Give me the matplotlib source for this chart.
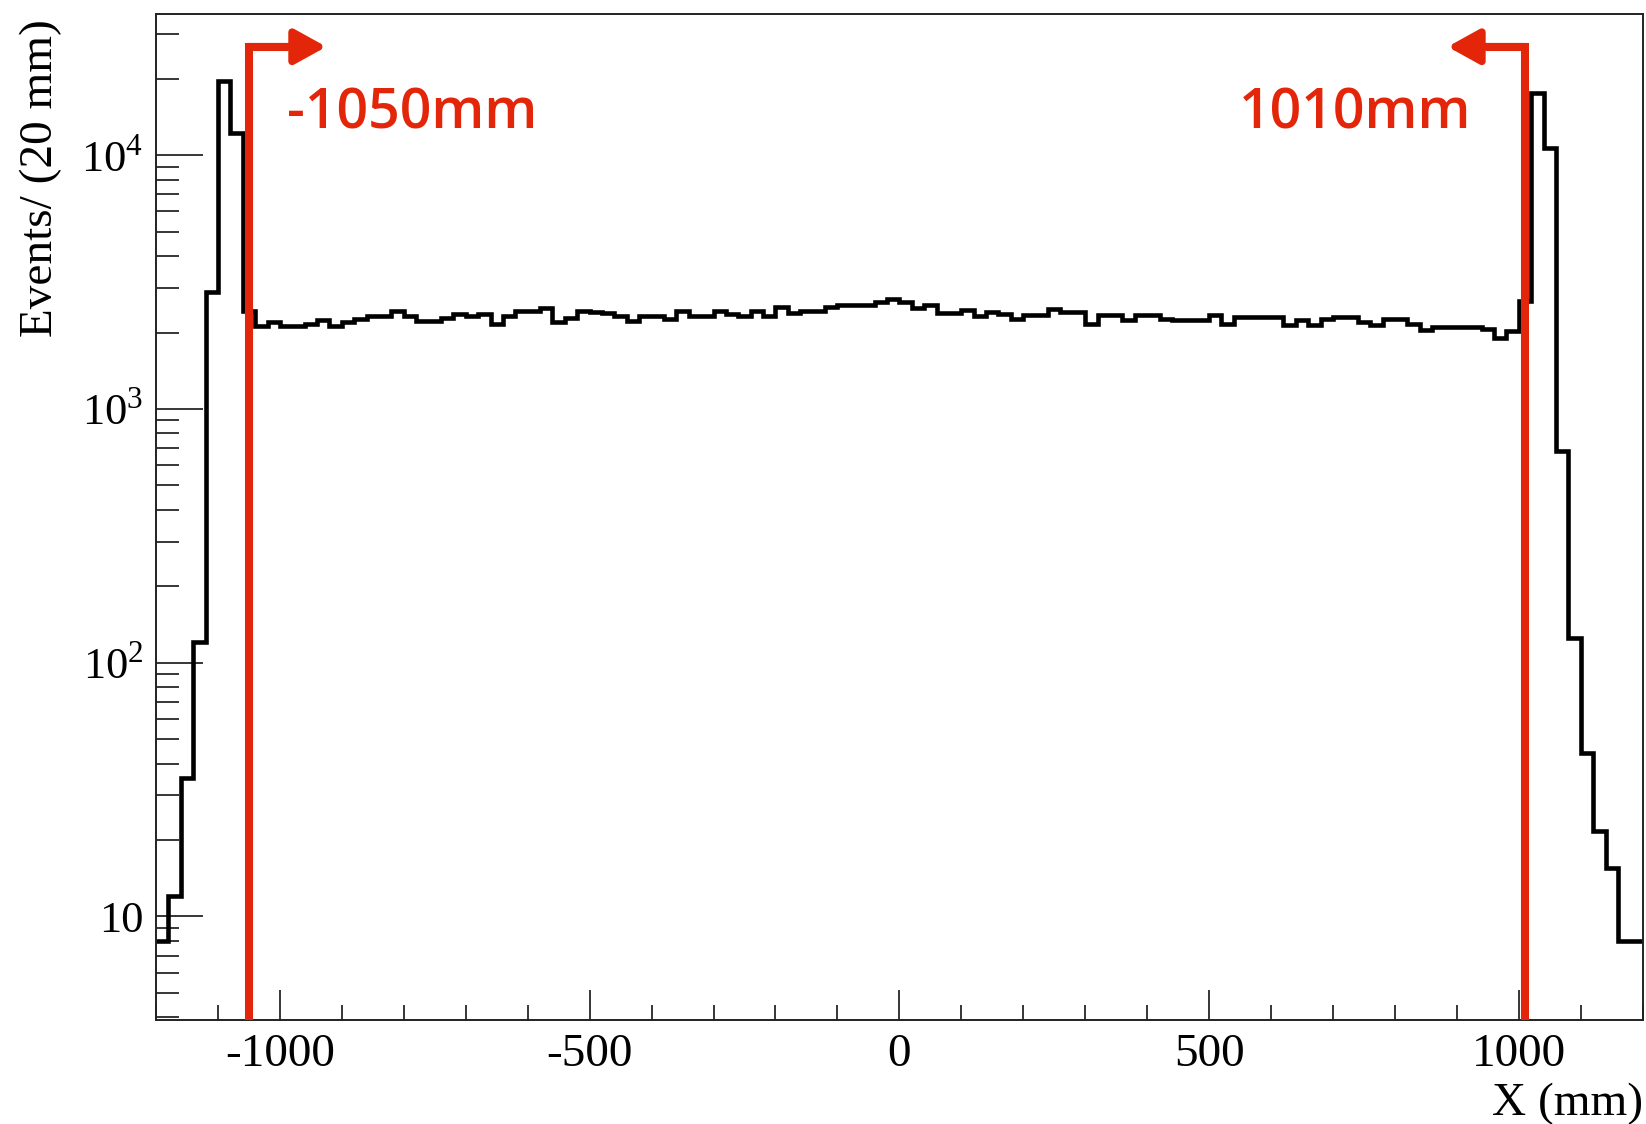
import numpy as np
import matplotlib
matplotlib.use("Agg")
import matplotlib.pyplot as plt
import matplotlib.ticker as mticker
import matplotlib.transforms as mtransforms

plt.rcParams['font.family'] = 'Liberation Serif'
plt.rcParams['mathtext.fontset'] = 'custom'
plt.rcParams['mathtext.rm'] = 'Liberation Serif'
plt.rcParams['axes.unicode_minus'] = False

# histogram binning (20 mm bins)
x_min = -1200
x_max = 1200
bin_width = 20

# counts, left to right
counts_left_peak = [8, 12, 35, 120, 2900, 19600, 12200, 2440]          # -1200 .. -1060
counts_flat_a = [2130, 2200, 2120, 2120, 2160, 2250, 2130, 2200, 2260, 2320,
                 2320, 2430, 2320, 2230, 2230, 2290, 2370, 2320, 2370, 2160,
                 2320, 2430, 2430, 2490, 2200, 2290, 2440, 2400, 2380]  # -1040 .. -480
counts_flat_b = [2320, 2230, 2320, 2320, 2260, 2440, 2320, 2320, 2440, 2370,
                 2320, 2440, 2320, 2520, 2390, 2440, 2440, 2520, 2570, 2570,
                 2570, 2650, 2700, 2650, 2490, 2570, 2390, 2390, 2460, 2320]  # -460 .. 120
counts_flat_c = [2420, 2370, 2266, 2335, 2335, 2480, 2410, 2410, 2166, 2335,
                 2335, 2233, 2350, 2350, 2266, 2233, 2233, 2233, 2350, 2166,
                 2300, 2300]                                            # 140 .. 560
counts_flat_d = [2300, 2300, 2133, 2250, 2133, 2266, 2310, 2310, 2200, 2133,
                 2266, 2266, 2166, 2038, 2100, 2100, 2110, 2100, 2060, 1910,
                 2020]                                                  # 580 .. 980
counts_right_peak = [2660, 17600, 10650, 684, 125, 44, 21.7, 15.5, 8, 8]  # 1000 .. 1180

# cut positions (mm)
cut_left = -1050
cut_right = 1010
cut_left_label = "-1050mm"
cut_right_label = "1010mm"

counts = np.array(counts_left_peak + counts_flat_a + counts_flat_b +
                  counts_flat_c + counts_flat_d + counts_right_peak, dtype=float)
edges = np.arange(x_min, x_max + bin_width, bin_width)

red = '#e32609'

fig = plt.figure(figsize=(16.46, 11.24), dpi=100)
ax = fig.add_axes([0.0948, 0.0925, 0.9032, 0.895])

ax.stairs(counts, edges, color='black', lw=3.3, baseline=None)

ax.set_yscale('log')
ax.set_xlim(x_min, x_max)
ax.set_ylim(3.9, 36000)

# ROOT-like ticks
ax.xaxis.set_major_locator(mticker.MultipleLocator(500))
ax.xaxis.set_minor_locator(mticker.MultipleLocator(100))
ax.yaxis.set_major_locator(mticker.FixedLocator([10, 100, 1000, 10000]))
ax.yaxis.set_major_formatter(mticker.FixedFormatter(['10', r'$10^{2}$', r'$10^{3}$', r'$10^{4}$']))
ax.yaxis.set_minor_locator(mticker.LogLocator(base=10, subs=np.arange(2, 10), numticks=20))
ax.yaxis.set_minor_formatter(mticker.NullFormatter())

ax.tick_params(which='both', direction='in', top=False, right=False, color='black')
ax.tick_params(axis='x', which='major', length=21.6, width=1.1, labelsize=34, pad=10)
ax.tick_params(axis='x', which='minor', length=10.8, width=1.1)
ax.tick_params(axis='y', which='major', length=33.8, width=1.1, labelsize=32, pad=9)
ax.tick_params(axis='y', which='minor', length=16.6, width=1.1)

for sp in ax.spines.values():
    sp.set_linewidth(1.4)
    sp.set_color('#222222')

ax.set_ylabel('Events/ (20 mm)', fontsize=34, loc='top')
ax.yaxis.set_label_coords(-0.0632, 0.995)
ax.set_xlabel('X (mm)', fontsize=34, loc='right')
ax.xaxis.set_label_coords(1.0, -0.0626)

# cut markers with arrows
trans = mtransforms.blended_transform_factory(ax.transData, ax.transAxes)
bar_y = 0.9675
arrow_len = 125
text_y = 0.8867

for cut, direction in [(cut_left, 1), (cut_right, -1)]:
    tip = cut + direction * arrow_len
    ax.plot([cut, cut, cut + direction * arrow_len * 0.5], [0, bar_y, bar_y],
            transform=trans, color=red, lw=5.8, solid_joinstyle='miter',
            solid_capstyle='butt', clip_on=False, zorder=5)
    ax.annotate('', xy=(tip, bar_y), xytext=(cut, bar_y),
                xycoords=trans, textcoords=trans,
                arrowprops=dict(arrowstyle='-|>,head_length=1.9,head_width=1.05',
                                mutation_scale=10, color=red, lw=5.5,
                                shrinkA=0, shrinkB=0),
                zorder=5)

ax.text(-989, text_y, cut_left_label, transform=trans, ha='left', va='baseline',
        color=red, fontsize=40, family='Open Sans', fontweight='semibold')
ax.text(924, text_y, cut_right_label, transform=trans, ha='right', va='baseline',
        color=red, fontsize=40, family='Open Sans', fontweight='semibold')

fig.savefig('out.png', dpi=100)
